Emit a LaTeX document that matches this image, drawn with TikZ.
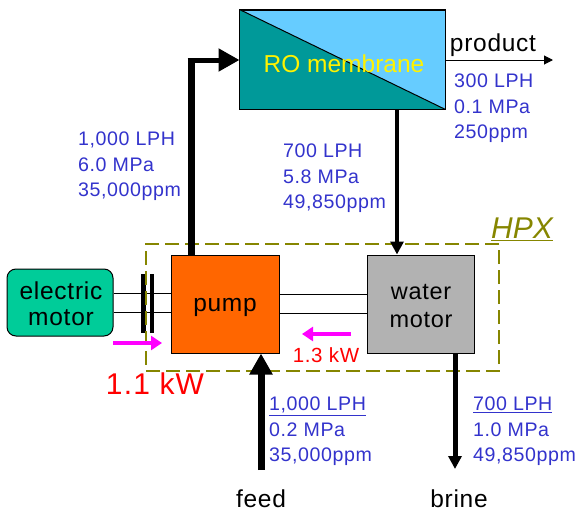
\documentclass[tikz,border=0pt]{standalone}
\usepackage{fontspec}
\setmainfont{Liberation Sans}
\usetikzlibrary{arrows.meta}
\definecolor{hpx}{RGB}{134,134,0}
\definecolor{info}{RGB}{51,51,204}
\definecolor{mag}{RGB}{255,0,255}
\definecolor{teal1}{RGB}{0,153,153}
\definecolor{sky}{RGB}{102,204,255}
\definecolor{green1}{RGB}{0,204,153}
\definecolor{orange1}{RGB}{255,102,0}
\definecolor{gray1}{RGB}{178,178,178}
\newfontfamily\spaced[LetterSpace=3]{Liberation Sans}
\tikzset{
 box/.style={draw=black,line width=1pt,inner sep=0pt,minimum width=#1},
 lab/.style={font=\spaced\fontsize{24.5}{26}\selectfont,text=black,align=center,inner sep=0pt},
 info/.style={font=\spaced\fontsize{19.6}{25.5}\selectfont,text=info,align=left,inner sep=0pt,anchor=north west},
 shaft/.style={draw=black,line width=1pt},
 flow/.style={draw=black,line width=4pt,-{Triangle[length=13pt,width=13pt]}},
 bigflow/.style={draw=black,line width=7pt,-{Triangle[length=21pt,width=22pt]}},
 power/.style={draw=mag,line width=4pt,-{Triangle[length=11pt,width=14pt]}},
}
\begin{document}
\begin{tikzpicture}[x=1pt,y=-1pt]
\useasboundingbox (0,0) rectangle (582,512);
% boxes
\node[box=205pt,minimum height=99pt,fill=sky] (ro) at (342.5,59.5) {};
\fill[teal1] (ro.north west) -- (ro.south east) -- (ro.south west) -- cycle;
\draw[line width=1pt] (ro.north west) rectangle (ro.south east);
\draw[line width=1pt] (ro.north west) -- (ro.south east);
\node[font=\fontsize{24.5}{26}\selectfont,text=yellow,inner sep=0pt] (rolabel) at (344,64) {RO membrane};
\node[box=108pt,minimum height=98pt,fill=orange1] (pump) at (225,304) {};
\node[box=107pt,minimum height=98pt,fill=gray1] (wm) at (420.5,304) {};
\node[box=106pt,minimum height=67pt,fill=green1,rounded corners=9pt] (em) at (60,302.5) {};
\node[lab] (emlabel) at (61,304) {electric\\motor};
\node[lab] (plabel) at (225,307) {pump};
\node[lab,font=\spaced\fontsize{23.5}{28}\selectfont] (wlabel) at (421,306) {water\\motor};
% shafts
\draw[shaft] ([yshift=9.5pt]em.east) -- ([yshift=11pt]pump.west);
\draw[shaft] ([yshift=-9.5pt]em.east) -- ([yshift=-8pt]pump.west);
\draw[shaft] ([yshift=10pt]pump.east) -- ([yshift=10pt]wm.west);
\draw[shaft] ([yshift=-9pt]pump.east) -- ([yshift=-9pt]wm.west);
\coordinate (c1a) at (143,274); \coordinate (c1b) at (143,333);
\coordinate (c2a) at (152,274); \coordinate (c2b) at (152,333);
\draw[line width=5pt] (c1a) -- (c1b);
\draw[line width=4.5pt] (c2a) -- (c2b);
% HPX
\coordinate (h1) at (146,244); \coordinate (h2) at (499,371);
\draw[hpx,line width=2pt,dash pattern=on 14pt off 6pt] (499,244) -- (146,244) -- (146,371) -- (499,371) -- cycle;
\node[font=\itshape\fontsize{30}{32}\selectfont,text=hpx,inner sep=0pt] (hpx) at (522,229) {\underline{HPX}};
% flows
\coordinate (bend) at (191,60);
\draw[line width=7pt] (pump.north -| bend) -- ([yshift=2.5pt]bend);
\draw[bigflow,line width=5pt] ([xshift=-3.5pt]bend) -- (ro.west |- bend);
\draw[flow,line width=3.5pt] (ro.south -| 397,0) -- (wm.north -| 397,0);
\coordinate (pin) at (261,470);
\draw[bigflow] (pin) -- (pump.south -| pin);
\coordinate (bout) at (455,469);
\draw[flow,line width=5pt] (wm.south -| bout) -- (bout);
\coordinate (pout) at (553,60);
\draw[line width=1pt,-{Triangle[length=9pt,width=9pt]}] (ro.east |- pout) -- (pout);
% power
\coordinate (p1a) at (113,343); \coordinate (p1b) at (162,343);
\draw[power] (p1a) -- (p1b);
\coordinate (p2a) at (351,334); \coordinate (p2b) at (302,334);
\draw[power] (p2a) -- (p2b);
% labels
\node[font=\fontsize{30}{32}\selectfont,text=red,inner sep=0pt] (kw1) at (155,384) {\addfontfeature{LetterSpace=4}1.1 kW};
\node[font=\spaced\fontsize{20.5}{22}\selectfont,text=red,inner sep=0pt] (kw2) at (326,355) {1.3 kW};
\node[lab] (product) at (493,45) {product};
\node[lab] (feed) at (261,499) {feed};
\node[lab] (brine) at (459,499) {brine};
\node[info] (i1) at (78,132) {1,000 LPH\\6.0 MPa\\35,000ppm};
\node[info] (i2) at (283,144) {700 LPH\\5.8 MPa\\49,850ppm};
\node[info] (i3) at (454,74) {300 LPH\\0.1 MPa\\250ppm};
\node[info] (i4) at (269,397) {\underline{1,000 LPH}\\0.2 MPa\\35,000ppm};
\node[info] (i5) at (473,397) {\underline{700 LPH}\\1.0 MPa\\49,850ppm};
\end{tikzpicture}
\end{document}
